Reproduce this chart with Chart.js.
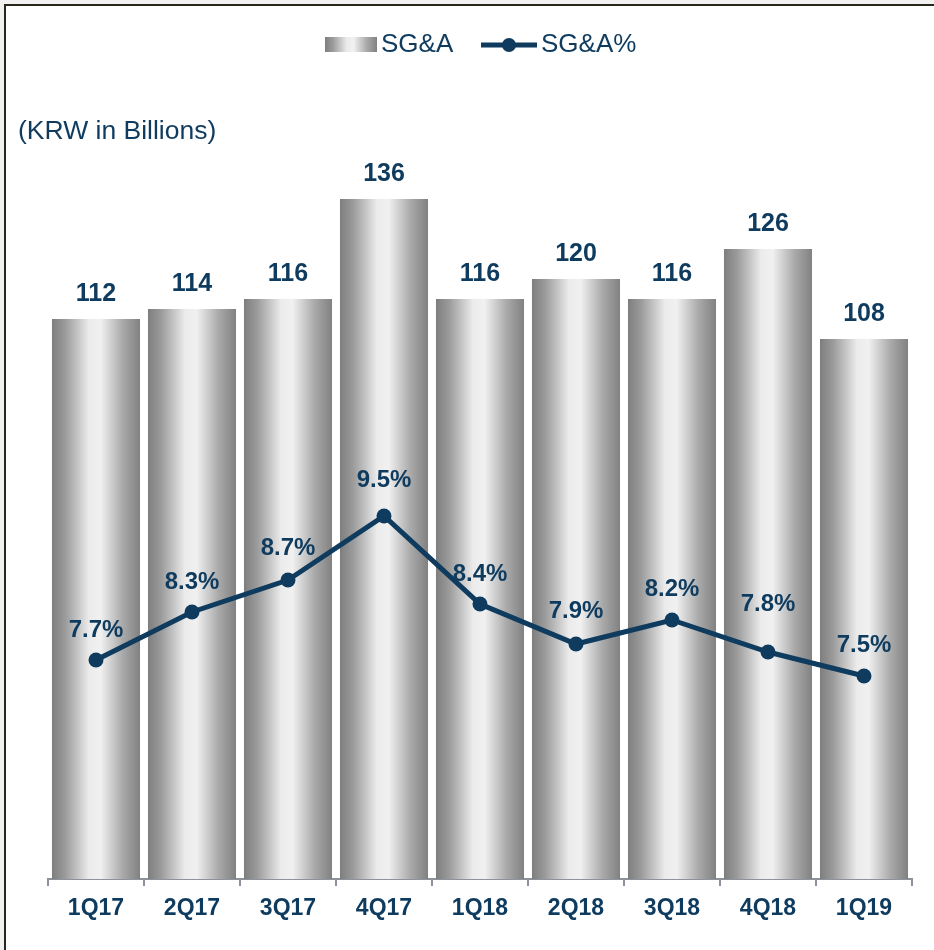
<!DOCTYPE html>
<html>
<head>
<meta charset="utf-8">
<script src="https://cdn.jsdelivr.net/npm/chart.js@4.4.1/dist/chart.umd.min.js"></script>
<style>
  html, body { margin: 0; padding: 0; background: #f1f1f1; }
  #frame {
    position: absolute; left: 4px; top: 4px;
    width: 930px; height: 946px;
    background: #fff;
    border-left: 2px solid #29261c;
    border-top: 2px solid #29261c;
  }
  canvas { display: block; }
</style>
</head>
<body>
<div id="frame"><canvas id="chart" width="928" height="944"></canvas></div>
<script>
// data
const quarters = ['1Q17', '2Q17', '3Q17', '4Q17', '1Q18', '2Q18', '3Q18', '4Q18', '1Q19'];
const sgaValues = [112, 114, 116, 136, 116, 120, 116, 126, 108];
const sgaPercent = [7.7, 8.3, 8.7, 9.5, 8.4, 7.9, 8.2, 7.8, 7.5];

const navy = '#0e3b5e';
const barPct = 0.917;

// how far above each point the % label sits
const pctLabelGap = [30, 30, 32, 36, 30, 33, 31, 48, 31];

function barGradient(ctx, left, right) {
    const g = ctx.createLinearGradient(left, 0, right, 0);
    g.addColorStop(0, '#7e7e7e');
    g.addColorStop(0.15, '#9b9b9b');
    g.addColorStop(0.42, '#ebebeb');
    g.addColorStop(0.55, '#f1f1f1');
    g.addColorStop(0.8, '#aaaaaa');
    g.addColorStop(1, '#818181');
    return g;
}

const labelsPlugin = {
    id: 'labels',
    afterDatasetsDraw(chart) {
        const ctx = chart.ctx;
        ctx.save();
        ctx.fillStyle = navy;
        ctx.textAlign = 'center';
        ctx.textBaseline = 'middle';
        ctx.font = 'bold 25px "Liberation Sans", Arial, sans-serif';
        chart.getDatasetMeta(1).data.forEach((bar, i) => {
            ctx.fillText(sgaValues[i], bar.x, bar.y - 25);
        });
        ctx.font = 'bold 24px "Liberation Sans", Arial, sans-serif';
        chart.getDatasetMeta(0).data.forEach((pt, i) => {
            ctx.fillText(sgaPercent[i].toFixed(1) + '%', pt.x, pt.y - pctLabelGap[i]);
        });
        ctx.restore();
    },
    afterDraw(chart) {
        const ctx = chart.ctx;
        ctx.save();
        // legend
        ctx.fillStyle = barGradient(ctx, 319, 371);
        ctx.fillRect(319, 31, 52, 15);
        ctx.fillStyle = navy;
        ctx.font = '26px "Liberation Sans", Arial, sans-serif';
        ctx.textBaseline = 'middle';
        ctx.textAlign = 'left';
        ctx.fillText('SG&A', 375, 39);
        ctx.strokeStyle = navy;
        ctx.lineWidth = 5;
        ctx.beginPath();
        ctx.moveTo(475, 39);
        ctx.lineTo(531, 39);
        ctx.stroke();
        ctx.beginPath();
        ctx.arc(503, 39, 7, 0, Math.PI * 2);
        ctx.fill();
        ctx.fillText('SG&A%', 535, 39);
        // unit label
        ctx.font = '26.5px "Liberation Sans", Arial, sans-serif';
        ctx.fillText('(KRW in Billions)', 12, 126);
        ctx.restore();
    }
};

new Chart(document.getElementById('chart'), {
    type: 'bar',
    data: {
        labels: quarters,
        datasets: [
            {
                type: 'line',
                label: 'SG&A%',
                data: sgaPercent,
                yAxisID: 'y2',
                order: 0,
                borderColor: navy,
                backgroundColor: navy,
                borderWidth: 5,
                pointRadius: 7.5,
                pointHoverRadius: 7.5,
                pointBackgroundColor: navy,
                pointBorderWidth: 0,
                tension: 0
            },
            {
                label: 'SG&A',
                data: sgaValues,
                yAxisID: 'y',
                order: 1,
                categoryPercentage: 1,
                barPercentage: barPct,
                backgroundColor: (c) => {
                    const chart = c.chart;
                    const x = chart.scales.x;
                    if (!chart.chartArea || !x || x.width === undefined) return '#bdbdbd';
                    const cx = x.getPixelForValue(c.dataIndex);
                    const w = x.width / quarters.length * barPct;
                    return barGradient(chart.ctx, cx - w / 2, cx + w / 2);
                }
            }
        ]
    },
    options: {
        responsive: false,
        animation: false,
        events: [],
        layout: { padding: { left: 42, right: 22, top: 123, bottom: 0 } },
        plugins: {
            legend: { display: false },
            tooltip: { enabled: false }
        },
        scales: {
            x: {
                afterFit(scale) { scale.height = 71; },
                grid: {
                    display: true,
                    offset: true,
                    drawOnChartArea: false,
                    drawTicks: true,
                    tickLength: 7,
                    color: '#8e929e',
                    lineWidth: 2
                },
                border: { display: true, color: '#8e929e', width: 2 },
                ticks: {
                    color: navy,
                    padding: 9,
                    font: { family: '"Liberation Sans", Arial, sans-serif', size: 23, weight: 'bold' }
                }
            },
            y: {
                display: false,
                min: 0,
                max: 150
            },
            y2: {
                display: false,
                position: 'right',
                min: 4.9625,
                max: 14.3375
            }
        }
    },
    plugins: [labelsPlugin]
});
</script>
</body>
</html>
